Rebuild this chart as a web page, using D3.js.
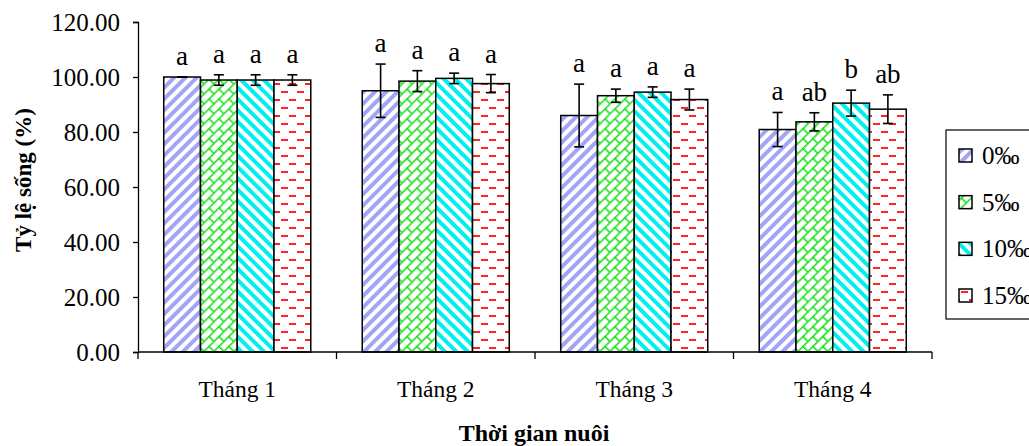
<!DOCTYPE html>
<html>
<head>
<meta charset="utf-8">
<script src="https://cdn.jsdelivr.net/npm/d3@7"></script>
<style>
  html, body { margin: 0; padding: 0; background: #fff; }
  svg text { font-family: "Liberation Serif", "Times New Roman", serif !important; fill: #000; }
</style>
</head>
<body>
<svg id="chart" width="1029" height="446"></svg>
<script>
// ---- data ----
const months = ["Tháng 1", "Tháng 2", "Tháng 3", "Tháng 4"];
const seriesNames = ["0‰", "5‰", "10‰", "15‰"];
const means0  = [100.0, 95.0, 86.0, 80.9];
const means5  = [98.9, 98.5, 93.2, 83.7];
const means10 = [98.9, 99.5, 94.5, 90.5];
const means15 = [98.9, 97.6, 91.8, 88.3];
const sd0  = [0.0, 9.7, 11.4, 6.2];
const sd5  = [1.9, 3.8, 2.4, 3.3];
const sd10 = [1.9, 1.9, 1.9, 4.7];
const sd15 = [1.9, 3.3, 3.8, 5.2];
const letters0  = ["a", "a", "a", "a"];
const letters5  = ["a", "a", "a", "ab"];
const letters10 = ["a", "a", "a", "b"];
const letters15 = ["a", "a", "a", "ab"];
const yTicks = [0, 20, 40, 60, 80, 100, 120];
const yTitle = "Tỷ lệ sống (%)";
const xTitle = "Thời gian nuôi";

const allMeans = [means0, means5, means10, means15];
const allSd = [sd0, sd5, sd10, sd15];
const allLetters = [letters0, letters5, letters10, letters15];

// ---- layout ----
const svg = d3.select("#chart");
const plot = { left: 138, right: 932, top: 22, bottom: 352 };

const x = d3.scaleBand().domain(months).range([plot.left, plot.right]).padding(0);
const xs = d3.scaleBand().domain(seriesNames).range([0, x.bandwidth()])
  .paddingInner(0).paddingOuter(0.7);
const y = d3.scaleLinear().domain([0, 120]).range([plot.bottom, plot.top]);

// ---- patterns ----
const defs = svg.append("defs");
function stripes(id, color, angle) {
  const p = defs.append("pattern").attr("id", id)
    .attr("patternUnits", "userSpaceOnUse").attr("width", 8).attr("height", 8)
    .attr("patternTransform", `rotate(${angle})`);
  p.append("rect").attr("width", 8).attr("height", 8).attr("fill", "#fff");
  p.append("rect").attr("x", 0).attr("width", 4).attr("height", 8).attr("fill", color);
}
stripes("pat0", "#a4a4f6", 45);
stripes("pat10", "#00f0f0", -45);
// diagonal brick
(function () {
  const h = 7;
  const p = defs.append("pattern").attr("id", "pat5")
    .attr("patternUnits", "userSpaceOnUse").attr("width", 2 * h).attr("height", 2 * h)
    .attr("patternTransform", "rotate(-45)");
  p.append("rect").attr("width", 2 * h).attr("height", 2 * h).attr("fill", "#fff");
  const g = p.append("g").attr("stroke", "#11e011").attr("stroke-width", 1.5).attr("fill", "none");
  g.append("line").attr("x1", 0).attr("x2", 2 * h).attr("y1", 0.8).attr("y2", 0.8);
  g.append("line").attr("x1", 0).attr("x2", 2 * h).attr("y1", h + 0.8).attr("y2", h + 0.8);
  g.append("line").attr("x1", 0.8).attr("x2", 0.8).attr("y1", 0).attr("y2", h);
  g.append("line").attr("x1", h + 0.8).attr("x2", h + 0.8).attr("y1", h).attr("y2", 2 * h);
})();
// red dashes
(function () {
  const p = defs.append("pattern").attr("id", "pat15")
    .attr("patternUnits", "userSpaceOnUse").attr("width", 16).attr("height", 16);
  p.append("rect").attr("width", 16).attr("height", 16).attr("fill", "#fff");
  p.append("rect").attr("x", 1).attr("y", 3).attr("width", 7).attr("height", 2).attr("fill", "#ff2020");
  p.append("rect").attr("x", 9).attr("y", 11).attr("width", 7).attr("height", 2).attr("fill", "#ff2020");
})();
const patIds = ["pat0", "pat5", "pat10", "pat15"];

// ---- data rows ----
const rows = [];
months.forEach((m, i) => {
  seriesNames.forEach((s, j) => {
    rows.push({ month: m, series: s, si: j, mean: allMeans[j][i], sd: allSd[j][i], letter: allLetters[j][i] });
  });
});

// ---- axes ----
const yAxis = d3.axisLeft(y).tickValues(yTicks).tickFormat(d3.format(".2f")).tickSize(5).tickPadding(13);
const gy = svg.append("g").attr("transform", `translate(${plot.left},0)`).call(yAxis)
  .attr("font-family", null).attr("font-size", null);
gy.select(".domain").attr("stroke", "#000").attr("stroke-width", 1.3);
gy.selectAll(".tick line").attr("stroke", "#000").attr("stroke-width", 1.3);
gy.selectAll(".tick text").style("font-size", "25px");

// bars
const bars = svg.append("g");
bars.selectAll("rect").data(rows).join("rect")
  .attr("x", d => x(d.month) + xs(d.series))
  .attr("y", d => y(d.mean))
  .attr("width", xs.bandwidth())
  .attr("height", d => y(0) - y(d.mean))
  .attr("fill", d => `url(#${patIds[d.si]})`)
  .attr("stroke", "#000").attr("stroke-width", 1.5);

// x axis with ticks at category boundaries
const gx = svg.append("g");
gx.append("line").attr("x1", plot.left).attr("x2", plot.right)
  .attr("y1", y(0)).attr("y2", y(0)).attr("stroke", "#000").attr("stroke-width", 1.5);
const bounds = months.map(m => x(m)).concat([x(months[months.length - 1]) + x.bandwidth()]);
gx.selectAll("line.tk").data(bounds).join("line").attr("class", "tk")
  .attr("x1", d => d).attr("x2", d => d)
  .attr("y1", y(0)).attr("y2", y(0) + 7).attr("stroke", "#000").attr("stroke-width", 1.3);
gx.selectAll("text").data(months).join("text")
  .attr("x", d => x(d) + x.bandwidth() / 2).attr("y", y(0) + 45)
  .attr("text-anchor", "middle").style("font-size", "23.5px").text(d => d);

// error bars
const eb = svg.append("g").attr("stroke", "#000").attr("stroke-width", 1.6);
rows.forEach(d => {
  const cx = x(d.month) + xs(d.series) + xs.bandwidth() / 2;
  const y1 = y(d.mean + d.sd), y2 = y(d.mean - d.sd);
  eb.append("line").attr("x1", cx).attr("x2", cx).attr("y1", y1).attr("y2", y2);
  eb.append("line").attr("x1", cx - 5).attr("x2", cx + 5).attr("y1", y1).attr("y2", y1);
  eb.append("line").attr("x1", cx - 5).attr("x2", cx + 5).attr("y1", y2).attr("y2", y2);
});

// significance letters
svg.append("g").selectAll("text").data(rows).join("text")
  .attr("x", d => x(d.month) + xs(d.series) + xs.bandwidth() / 2)
  .attr("y", d => y(d.mean + d.sd) - 12)
  .attr("text-anchor", "middle").style("font-size", "27px").text(d => d.letter);

// axis titles
svg.append("text").attr("transform", "translate(31,180) rotate(-90)")
  .attr("text-anchor", "middle").style("font-size", "23px").style("font-weight", "bold").text(yTitle);
svg.append("text").attr("x", 534).attr("y", 441)
  .attr("text-anchor", "middle").style("font-size", "24px").style("font-weight", "bold").text(xTitle);

// legend
const lg = svg.append("g");
lg.append("rect").attr("x", 946).attr("y", 130).attr("width", 120).attr("height", 189)
  .attr("fill", "#fff").attr("stroke", "#000").attr("stroke-width", 1.2);
const ly = d3.scalePoint().domain(seriesNames).range([155, 295]);
seriesNames.forEach((s, j) => {
  lg.append("rect").attr("x", 959).attr("y", ly(s) - 6).attr("width", 13).attr("height", 13)
    .attr("fill", `url(#${patIds[j]})`).attr("stroke", "#000").attr("stroke-width", 1.5);
  lg.append("text").attr("x", 982).attr("y", ly(s) + 9).style("font-size", "25px").text(s);
});
</script>
</body>
</html>
